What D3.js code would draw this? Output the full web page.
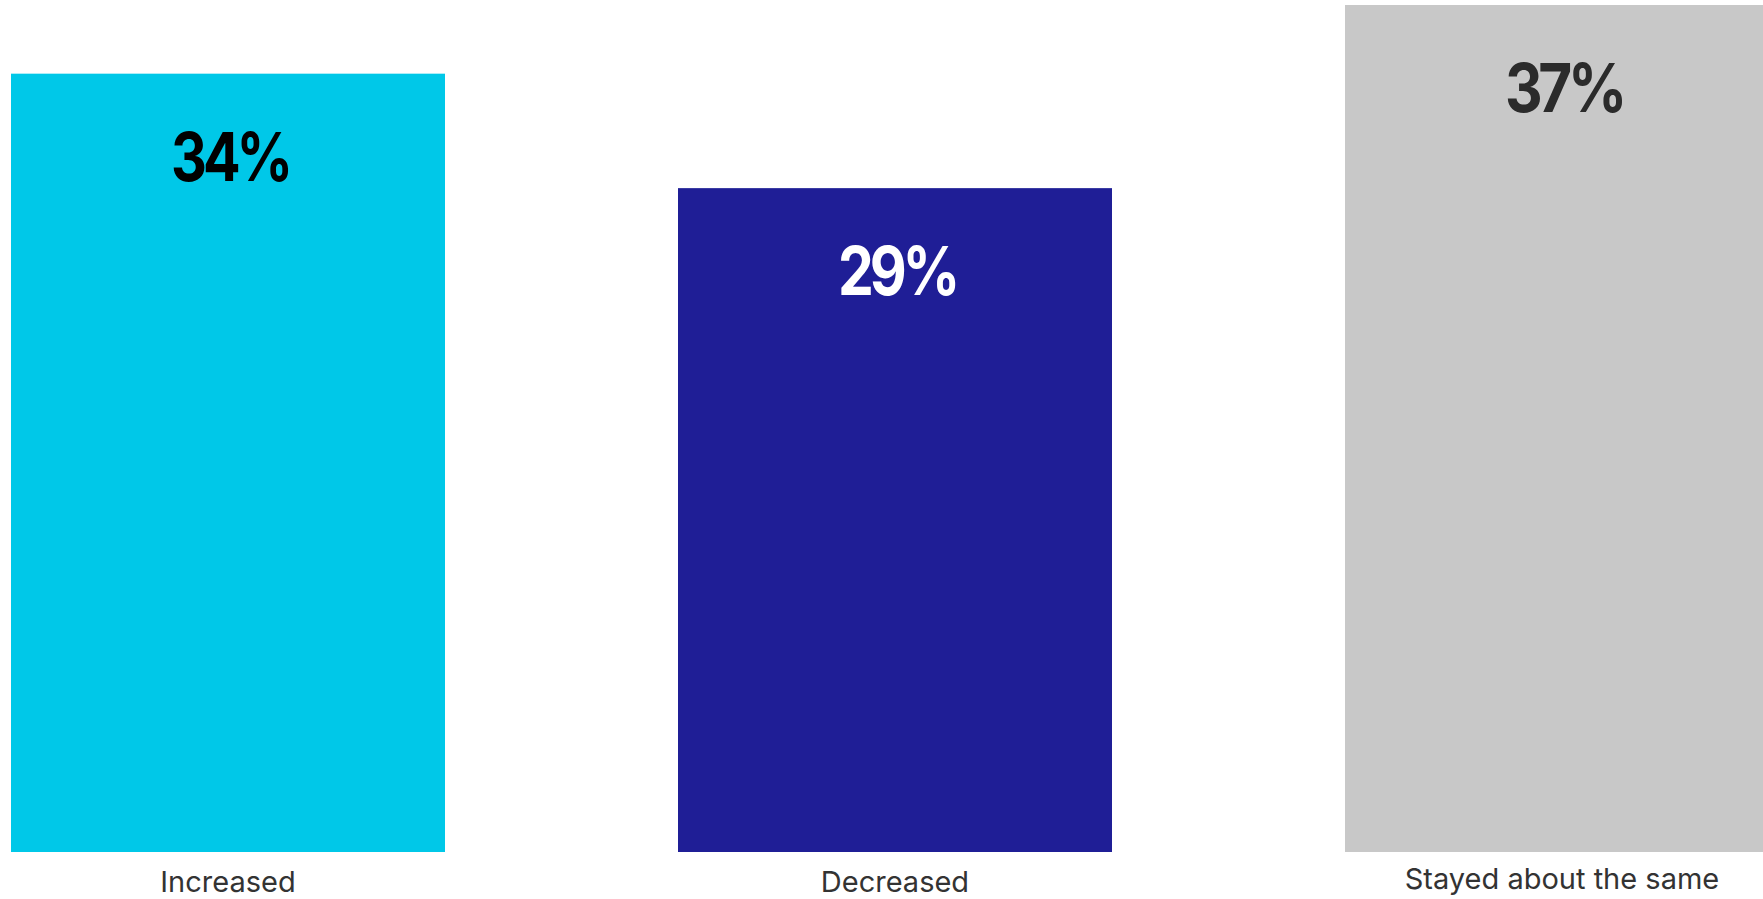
<!DOCTYPE html>
<html lang="en">
<head>
  <meta charset="UTF-8">
  <title>Bar chart</title>
  <style>
    html, body {
      margin: 0;
      padding: 0;
      background: #fff;
    }
    #chart {
      display: block;
    }
    .value {
      font-family: Inter, "Noto Sans", sans-serif;
      font-weight: 700;
      font-size: 68px;
      letter-spacing: -5px;
      text-anchor: middle;
    }
    .cat {
      font-family: Inter, "Noto Sans", sans-serif;
      font-size: 29px;
      fill: #333;
      text-anchor: middle;
    }
  </style>
</head>
<body>
  <svg id="chart" width="1763" height="899"></svg>
  <script src="https://cdn.jsdelivr.net/npm/d3@7/dist/d3.min.js"></script>
  <script>
    const categories = ['Increased', 'Decreased', 'Stayed about the same']
    const values = [34, 29, 37]
    const barColors = ['#00c8e8', '#1f1e96', '#c8c8c8']
    const textColors = ['#000000', '#ffffff', '#2b2b2b']

    const svg = d3.select('#chart')

    // third bar runs past the right edge in the original
    const x = d3.scaleBand()
      .domain(categories)
      .range([11, 11 + 667 * 3 - 233])
      .paddingInner(233 / 667)
      .paddingOuter(0)

    const y = d3.scaleLinear()
      .domain([0, 37])
      .range([852, 5])

    const data = categories.map((c, i) => ({ cat: c, val: values[i], i: i }))

    svg.selectAll('.bar')
      .data(data)
      .enter()
      .append('rect')
      .attr('class', 'bar')
      .attr('x', d => x(d.cat))
      .attr('y', d => y(d.val))
      .attr('width', x.bandwidth())
      .attr('height', d => y(0) - y(d.val))
      .attr('fill', d => barColors[d.i])

    svg.selectAll('.value')
      .data(data)
      .enter()
      .append('text')
      .attr('class', 'value')
      .attr('x', d => x(d.cat) + x.bandwidth() / 2 + 2)
      .attr('y', d => y(d.val) + 107)
      .attr('fill', d => textColors[d.i])
      .attr('textLength', 118)
      .attr('lengthAdjust', 'spacingAndGlyphs')
      .text(d => d.val + '%')

    svg.selectAll('.cat')
      .data(data)
      .enter()
      .append('text')
      .attr('class', 'cat')
      .attr('x', d => x(d.cat) + x.bandwidth() / 2)
      .attr('y', d => d.i === 2 ? 889 : 892)
      .text(d => d.cat)
  </script>
</body>
</html>
